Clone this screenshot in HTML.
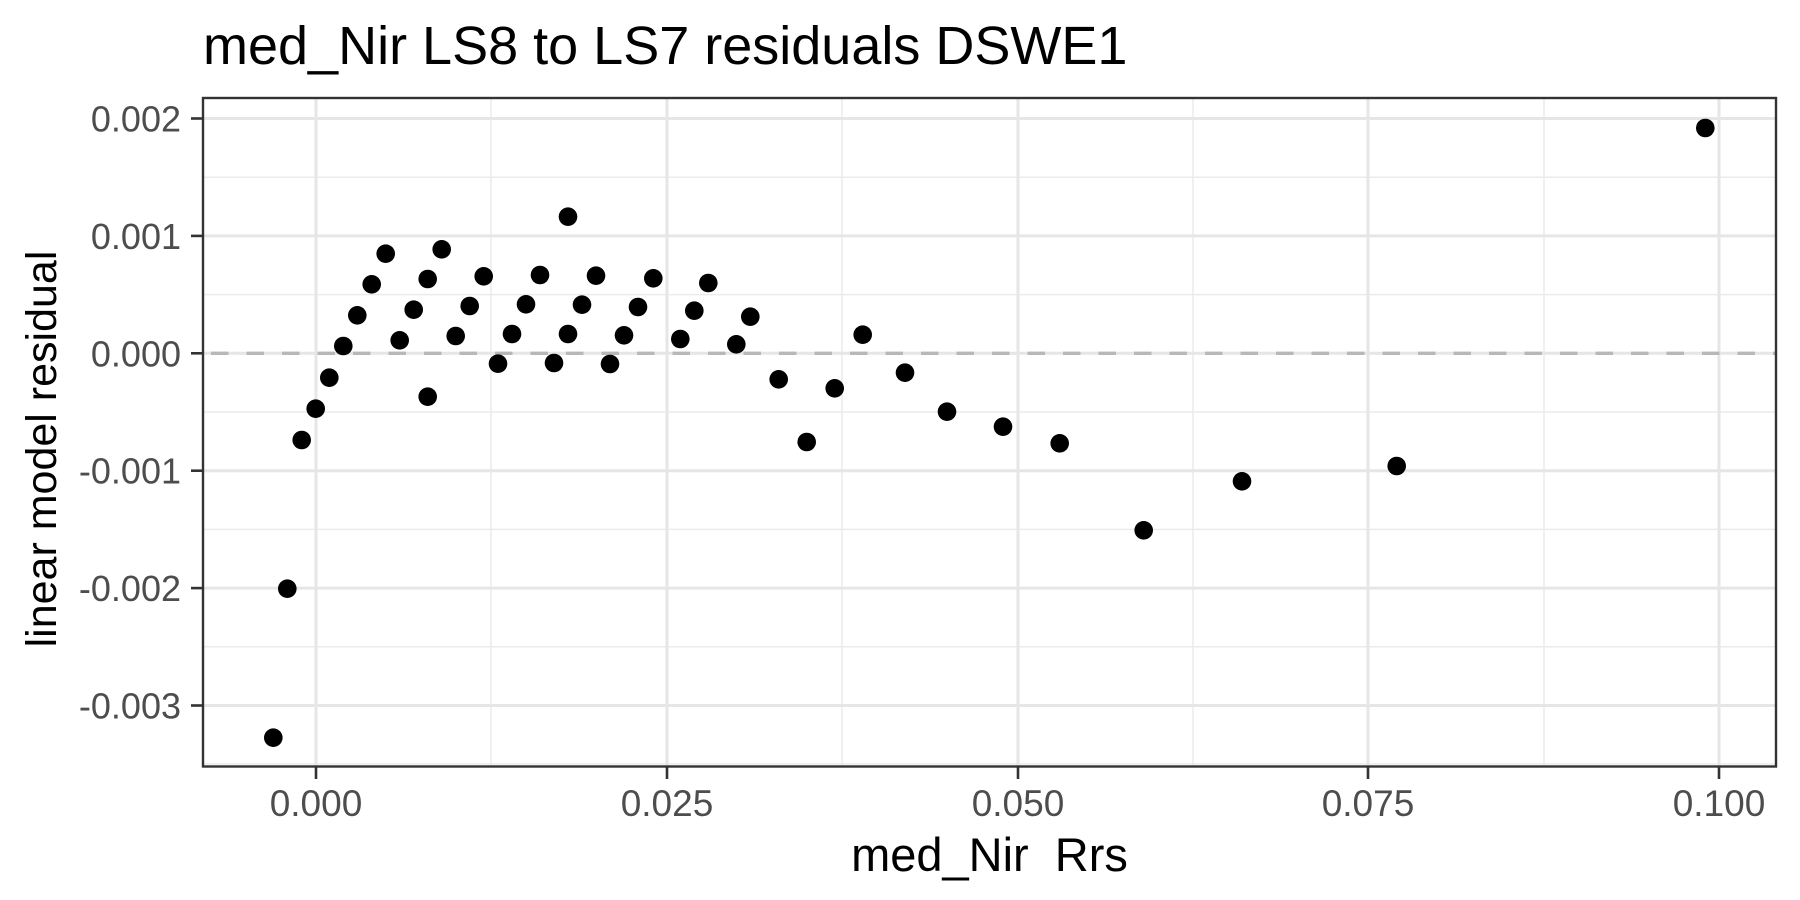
<!DOCTYPE html>
<html><head><meta charset="utf-8"><style>html,body{margin:0;padding:0;background:#fff}svg{display:block}</style></head>
<body>
<svg width="1800" height="900" xmlns="http://www.w3.org/2000/svg" font-family="'Liberation Sans', sans-serif">
<rect width="1800" height="900" fill="#fff"/>
<g stroke="#ebebeb" stroke-width="1.5">
<line x1="203" x2="1776" y1="177.2" y2="177.2"/><line x1="203" x2="1776" y1="294.6" y2="294.6"/>
<line x1="203" x2="1776" y1="412" y2="412"/><line x1="203" x2="1776" y1="529.4" y2="529.4"/>
<line x1="203" x2="1776" y1="646.8" y2="646.8"/><line x1="203" x2="1776" y1="764" y2="764"/>
<line x1="491" x2="491" y1="98" y2="767"/><line x1="842" x2="842" y1="98" y2="767"/>
<line x1="1193" x2="1193" y1="98" y2="767"/><line x1="1544" x2="1544" y1="98" y2="767"/>
</g>
<g stroke="#e6e6e6" stroke-width="3">
<line x1="203" x2="1776" y1="118.5" y2="118.5"/><line x1="203" x2="1776" y1="235.9" y2="235.9"/>
<line x1="203" x2="1776" y1="353.3" y2="353.3"/><line x1="203" x2="1776" y1="470.7" y2="470.7"/>
<line x1="203" x2="1776" y1="588.1" y2="588.1"/><line x1="203" x2="1776" y1="705.5" y2="705.5"/>
<line x1="316" x2="316" y1="98" y2="767"/><line x1="667" x2="667" y1="98" y2="767"/>
<line x1="1018" x2="1018" y1="98" y2="767"/><line x1="1368" x2="1368" y1="98" y2="767"/>
<line x1="1719" x2="1719" y1="98" y2="767"/>
</g>
<line x1="203" x2="1776" y1="353.3" y2="353.3" stroke="#b8b8b8" stroke-width="3.4" stroke-dasharray="17.5,18" stroke-dashoffset="-8"/>
<g fill="#000">
<circle cx="301.7" cy="440" r="9.3"/><circle cx="315.7" cy="408.7" r="9.3"/><circle cx="329.3" cy="377.7" r="9.3"/>
<circle cx="343.3" cy="346" r="9.3"/><circle cx="357.3" cy="315.3" r="9.3"/><circle cx="371.7" cy="284.3" r="9.3"/>
<circle cx="385.7" cy="253.7" r="9.3"/><circle cx="399.7" cy="340.3" r="9.3"/><circle cx="413.7" cy="309.7" r="9.3"/>
<circle cx="427.7" cy="396.7" r="9.3"/><circle cx="427.7" cy="279" r="9.3"/><circle cx="441.7" cy="249.3" r="9.3"/>
<circle cx="455.7" cy="336" r="9.3"/><circle cx="469.7" cy="306" r="9.3"/><circle cx="483.7" cy="276.3" r="9.3"/>
<circle cx="498" cy="363.7" r="9.3"/><circle cx="512" cy="334" r="9.3"/><circle cx="526" cy="304.3" r="9.3"/>
<circle cx="540" cy="275" r="9.3"/><circle cx="554" cy="363" r="9.3"/><circle cx="568" cy="334" r="9.3"/>
<circle cx="568" cy="216.7" r="9.3"/><circle cx="582" cy="304.7" r="9.3"/><circle cx="596" cy="275.7" r="9.3"/>
<circle cx="610" cy="364" r="9.3"/><circle cx="624" cy="335.3" r="9.3"/><circle cx="638" cy="307" r="9.3"/>
<circle cx="653.3" cy="278.3" r="9.3"/><circle cx="680.3" cy="339" r="9.3"/><circle cx="694.3" cy="310.7" r="9.3"/>
<circle cx="708.3" cy="283" r="9.3"/><circle cx="736.3" cy="344.3" r="9.3"/><circle cx="750.3" cy="316.7" r="9.3"/>
<circle cx="778.7" cy="379.3" r="9.3"/><circle cx="806.7" cy="442" r="9.3"/><circle cx="834.7" cy="388.3" r="9.3"/>
<circle cx="862.7" cy="334.7" r="9.3"/><circle cx="905" cy="372.7" r="9.3"/><circle cx="947" cy="411.7" r="9.3"/>
<circle cx="1003" cy="426.7" r="9.3"/><circle cx="1059.7" cy="443.3" r="9.3"/><circle cx="1143.7" cy="530.3" r="9.3"/>
<circle cx="1242" cy="481.3" r="9.3"/><circle cx="1396.7" cy="466" r="9.3"/><circle cx="287.3" cy="588.7" r="9.3"/>
<circle cx="273.3" cy="737.7" r="9.3"/><circle cx="1705.3" cy="128" r="9.3"/>
</g>
<rect x="203" y="98" width="1573" height="668.5" fill="none" stroke="#333" stroke-width="2.4"/>
<g stroke="#333" stroke-width="2.6">
<line x1="191" x2="203" y1="118.5" y2="118.5"/><line x1="191" x2="203" y1="235.9" y2="235.9"/>
<line x1="191" x2="203" y1="353.3" y2="353.3"/><line x1="191" x2="203" y1="470.7" y2="470.7"/>
<line x1="191" x2="203" y1="588.1" y2="588.1"/><line x1="191" x2="203" y1="705.5" y2="705.5"/>
<line x1="316" x2="316" y1="767" y2="779"/><line x1="667" x2="667" y1="767" y2="779"/>
<line x1="1018" x2="1018" y1="767" y2="779"/><line x1="1368" x2="1368" y1="767" y2="779"/>
<line x1="1719" x2="1719" y1="767" y2="779"/>
</g>
<g fill="#4d4d4d" font-size="36" text-anchor="end">
<text x="181" y="131.5">0.002</text><text x="181" y="248.9">0.001</text><text x="181" y="366.3">0.000</text>
<text x="181" y="483.7">-0.001</text><text x="181" y="601.1">-0.002</text><text x="181" y="718.5">-0.003</text>
</g>
<g fill="#4d4d4d" font-size="37" text-anchor="middle">
<text x="316" y="816">0.000</text><text x="667" y="816">0.025</text><text x="1018" y="816">0.050</text>
<text x="1368" y="816">0.075</text><text x="1719" y="816">0.100</text>
</g>
<text x="989.5" y="871" font-size="47" text-anchor="middle" fill="#000">med_Nir&#160; Rrs</text>
<text transform="translate(56,449) rotate(-90)" font-size="43" text-anchor="middle" fill="#000">linear model residual</text>
<text x="203" y="64" font-size="54" fill="#000">med_Nir LS8 to LS7 residuals DSWE1</text>
</svg>
</body></html>
